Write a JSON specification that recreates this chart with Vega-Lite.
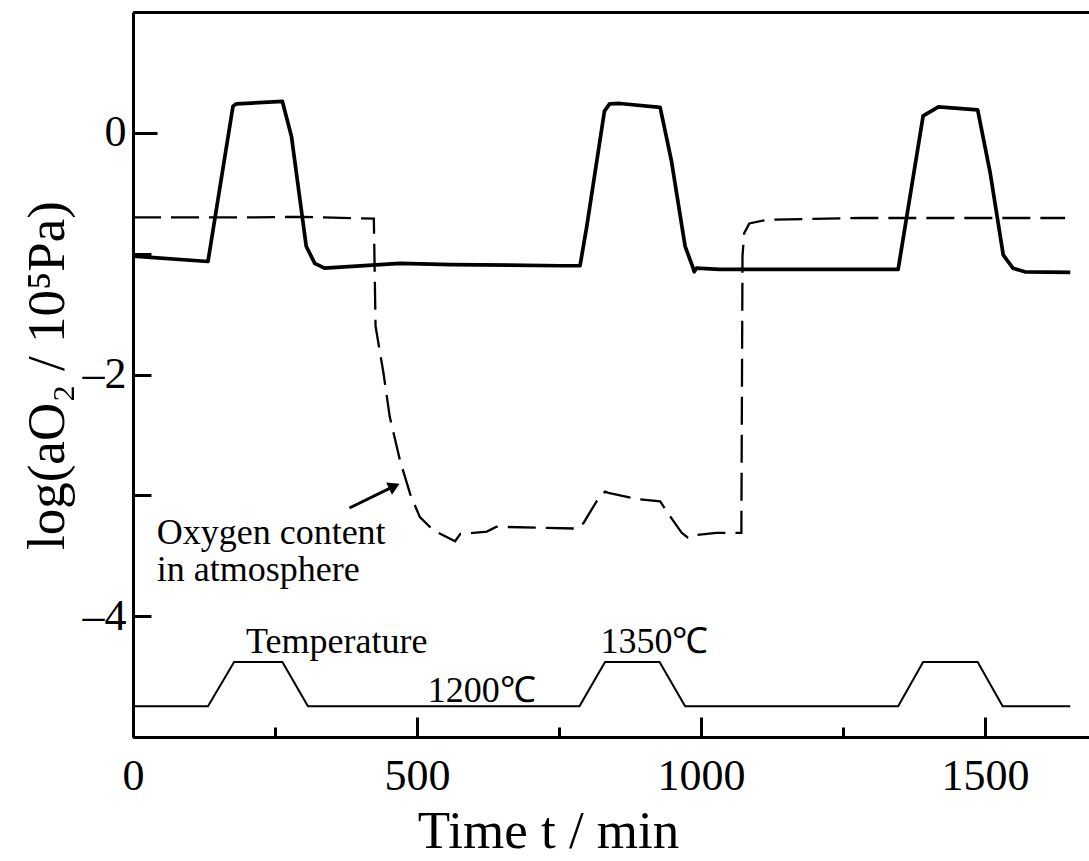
{
  "$schema": "https://vega.github.io/schema/vega-lite/v6.json",
  "width": 956,
  "height": 725,
  "autosize": {"type": "none"},
  "padding": {"left": 133, "top": 12, "right": 0, "bottom": 124},
  "background": "white",
  "config": {
    "view": {"stroke": null},
    "axis": {
      "grid": false,
      "domainColor": "black",
      "domainWidth": 3,
      "tickColor": "black",
      "tickWidth": 3,
      "labelColor": "black",
      "titleColor": "black",
      "labelFont": "Liberation Serif",
      "titleFont": "Liberation Serif",
      "titleFontWeight": "normal"
    }
  },
  "datasets": {
    "curves": [
      {"series": "aO2", "t": 0, "v": -1.02},
      {"series": "aO2", "t": 132, "v": -1.065},
      {"series": "aO2", "t": 176, "v": 0.22},
      {"series": "aO2", "t": 182, "v": 0.24},
      {"series": "aO2", "t": 263, "v": 0.26},
      {"series": "aO2", "t": 279, "v": -0.03},
      {"series": "aO2", "t": 305, "v": -0.94},
      {"series": "aO2", "t": 320, "v": -1.08},
      {"series": "aO2", "t": 337, "v": -1.12},
      {"series": "aO2", "t": 470, "v": -1.08},
      {"series": "aO2", "t": 560, "v": -1.09},
      {"series": "aO2", "t": 752, "v": -1.1},
      {"series": "aO2", "t": 787, "v": -1.1},
      {"series": "aO2", "t": 799, "v": -0.77},
      {"series": "aO2", "t": 830, "v": 0.18},
      {"series": "aO2", "t": 839, "v": 0.24},
      {"series": "aO2", "t": 857, "v": 0.243},
      {"series": "aO2", "t": 928, "v": 0.21},
      {"series": "aO2", "t": 948, "v": -0.235},
      {"series": "aO2", "t": 972, "v": -0.94},
      {"series": "aO2", "t": 985, "v": -1.105},
      {"series": "aO2", "t": 988, "v": -1.15},
      {"series": "aO2", "t": 992, "v": -1.12},
      {"series": "aO2", "t": 1033, "v": -1.13},
      {"series": "aO2", "t": 1200, "v": -1.13},
      {"series": "aO2", "t": 1347, "v": -1.13},
      {"series": "aO2", "t": 1391, "v": 0.14},
      {"series": "aO2", "t": 1418, "v": 0.215},
      {"series": "aO2", "t": 1487, "v": 0.19},
      {"series": "aO2", "t": 1509, "v": -0.33},
      {"series": "aO2", "t": 1532, "v": -1.01},
      {"series": "aO2", "t": 1549, "v": -1.12},
      {"series": "aO2", "t": 1570, "v": -1.15},
      {"series": "aO2", "t": 1650, "v": -1.155},
      {"series": "atm", "t": 0, "v": -0.7},
      {"series": "atm", "t": 200, "v": -0.7},
      {"series": "atm", "t": 300, "v": -0.695},
      {"series": "atm", "t": 424, "v": -0.71},
      {"series": "atm", "t": 427, "v": -1.6},
      {"series": "atm", "t": 441, "v": -1.99},
      {"series": "atm", "t": 452, "v": -2.35},
      {"series": "atm", "t": 470, "v": -2.71},
      {"series": "atm", "t": 488, "v": -2.99},
      {"series": "atm", "t": 505, "v": -3.18},
      {"series": "atm", "t": 529, "v": -3.29},
      {"series": "atm", "t": 546, "v": -3.33},
      {"series": "atm", "t": 567, "v": -3.38},
      {"series": "atm", "t": 576, "v": -3.32},
      {"series": "atm", "t": 623, "v": -3.3},
      {"series": "atm", "t": 640, "v": -3.26},
      {"series": "atm", "t": 781, "v": -3.275},
      {"series": "atm", "t": 793, "v": -3.23},
      {"series": "atm", "t": 816, "v": -3.05},
      {"series": "atm", "t": 831, "v": -2.97},
      {"series": "atm", "t": 837, "v": -2.98},
      {"series": "atm", "t": 887, "v": -3.03},
      {"series": "atm", "t": 928, "v": -3.05},
      {"series": "atm", "t": 931, "v": -3.07},
      {"series": "atm", "t": 942, "v": -3.15},
      {"series": "atm", "t": 966, "v": -3.31},
      {"series": "atm", "t": 977, "v": -3.35},
      {"series": "atm", "t": 989, "v": -3.33},
      {"series": "atm", "t": 1027, "v": -3.31},
      {"series": "atm", "t": 1071, "v": -3.31},
      {"series": "atm", "t": 1073, "v": -1.02},
      {"series": "atm", "t": 1076, "v": -0.83},
      {"series": "atm", "t": 1085, "v": -0.75},
      {"series": "atm", "t": 1115, "v": -0.72},
      {"series": "atm", "t": 1280, "v": -0.705},
      {"series": "atm", "t": 1641, "v": -0.705},
      {"series": "temp", "t": 0, "v": -4.746},
      {"series": "temp", "t": 132, "v": -4.746},
      {"series": "temp", "t": 178, "v": -4.38},
      {"series": "temp", "t": 263, "v": -4.38},
      {"series": "temp", "t": 308, "v": -4.746},
      {"series": "temp", "t": 786, "v": -4.746},
      {"series": "temp", "t": 831, "v": -4.38},
      {"series": "temp", "t": 927, "v": -4.38},
      {"series": "temp", "t": 972, "v": -4.746},
      {"series": "temp", "t": 1347, "v": -4.746},
      {"series": "temp", "t": 1391, "v": -4.38},
      {"series": "temp", "t": 1487, "v": -4.38},
      {"series": "temp", "t": 1531, "v": -4.746},
      {"series": "temp", "t": 1650, "v": -4.746}
    ],
    "labels": [
      {"t": 41.7, "v": -3.405, "text": "Oxygen content"},
      {"t": 41.7, "v": -3.708, "text": "in atmosphere"},
      {"t": 199, "v": -4.307, "text": "Temperature"},
      {"t": 823, "v": -4.307, "text": "1350℃"},
      {"t": 519, "v": -4.707, "text": "1200℃"}
    ],
    "arrow": [
      {"t": 381, "v": -3.105, "t2": 460, "v2": -2.924}
    ]
  },
  "resolve": {"axis": {"x": "independent"}},
  "layer": [
    {
      "data": {"name": "curves"},
      "transform": [{"filter": "datum.series === 'aO2'"}],
      "mark": {"type": "line", "color": "black", "strokeWidth": 3.7, "strokeJoin": "round"},
      "encoding": {
        "x": {
          "field": "t", "type": "quantitative",
          "scale": {"domain": [0, 1683], "nice": false, "zero": false},
          "axis": {
            "orient": "bottom",
            "values": [0, 250, 500, 750, 1000, 1250, 1500],
            "tickSize": {"condition": {"test": "datum.value % 500 === 0", "value": -20}, "value": -10},
            "labelExpr": "datum.value % 500 === 0 ? datum.value + '' : ''",
            "labelFontSize": 44,
            "labelPadding": 37,
            "labelFlush": false,
            "labelOverlap": false,
            "title": "Time t / min",
            "titleFontSize": 53,
            "titleX": 415,
            "titleY": 110,
            "titleBaseline": "alphabetic",
            "titleAlign": "center"
          }
        },
        "y": {
          "field": "v", "type": "quantitative",
          "scale": {"domain": [-5, 1], "nice": false, "zero": false},
          "axis": {
            "orient": "left",
            "values": [-5, -4, -3, -2, -1, 0, 1],
            "tickSize": {"condition": {"test": "datum.value === 0", "value": -24}, "value": -18},
            "labelPadding": {"condition": {"test": "datum.value === 0", "value": 31}, "value": 25},
            "labelExpr": "datum.value === 0 ? '0' : (datum.value === -2 ? '–2' : (datum.value === -4 ? '–4' : ''))",
            "labelFontSize": 44,
            "labelFlush": false,
            "labelOverlap": false,
            "title": "log(aO₂ / 10⁵Pa)",
            "titleFontSize": 53,
            "titleAngle": -90,
            "titleX": -86,
            "titleY": 363,
            "titleBaseline": "middle",
            "titleAlign": "center"
          }
        }
      }
    },
    {
      "data": {"name": "curves"},
      "transform": [{"filter": "datum.series === 'atm'"}],
      "mark": {"type": "line", "color": "black", "strokeWidth": 2.3, "strokeDash": [28, 10]},
      "encoding": {
        "x": {
          "field": "t", "type": "quantitative",
          "axis": {"orient": "top", "ticks": false, "labels": false, "title": null, "domainWidth": 3}
        },
        "y": {"field": "v", "type": "quantitative"}
      }
    },
    {
      "data": {"name": "curves"},
      "transform": [{"filter": "datum.series === 'temp'"}],
      "mark": {"type": "line", "color": "black", "strokeWidth": 2},
      "encoding": {
        "x": {"field": "t", "type": "quantitative", "axis": null},
        "y": {"field": "v", "type": "quantitative"}
      }
    },
    {
      "data": {"name": "labels"},
      "mark": {"type": "text", "font": "Liberation Serif", "fontSize": 36, "align": "left", "baseline": "alphabetic", "color": "black"},
      "encoding": {
        "x": {"field": "t", "type": "quantitative", "axis": null},
        "y": {"field": "v", "type": "quantitative"},
        "text": {"field": "text"}
      }
    },
    {
      "data": {"name": "arrow"},
      "mark": {"type": "rule", "color": "black", "strokeWidth": 3},
      "encoding": {
        "x": {"field": "t", "type": "quantitative", "axis": null},
        "y": {"field": "v", "type": "quantitative"},
        "x2": {"field": "t2"},
        "y2": {"field": "v2"}
      }
    },
    {
      "data": {"name": "arrow"},
      "mark": {"type": "point", "shape": "triangle-right", "filled": true, "color": "black", "opacity": 1, "size": 180, "angle": -25.7},
      "encoding": {
        "x": {"field": "t2", "type": "quantitative", "axis": null},
        "y": {"field": "v2", "type": "quantitative"}
      }
    }
  ]
}
